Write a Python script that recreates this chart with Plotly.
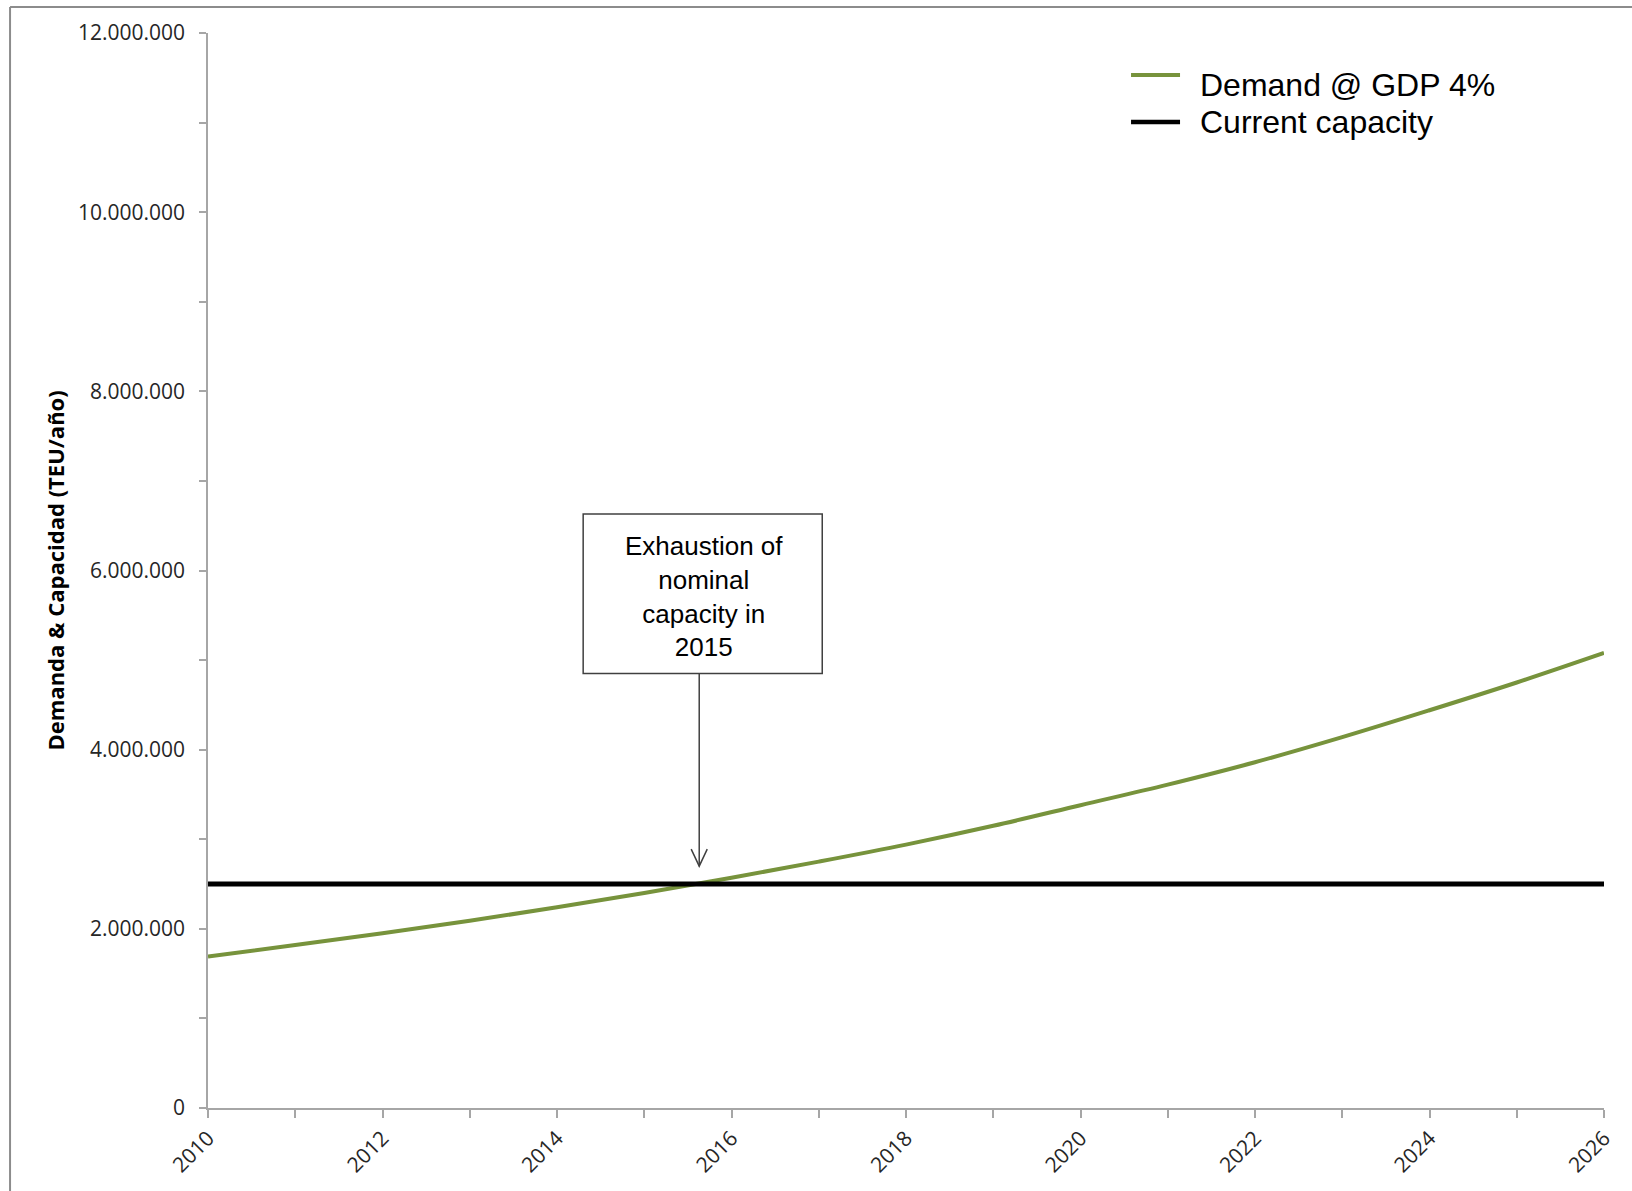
import plotly.graph_objects as go

# ---- data ----
years = list(range(2010, 2027))
demand = [1.69e6, 1.82e6, 1.95e6, 2.09e6, 2.24e6, 2.40e6, 2.57e6, 2.75e6, 2.94e6,
          3.15e6, 3.38e6, 3.61e6, 3.86e6, 4.14e6, 4.44e6, 4.75e6, 5.08e6]
capacity = [2.5e6] * len(years)
series_names = ["Demand @ GDP 4%", "Current capacity"]
y_title = "Demanda & Capacidad (TEU/año)"
note_text = "Exhaustion of<br>nominal<br>capacity in<br>2015"
note_box = dict(x0=2014.30, x1=2017.04, y0=4.85e6, y1=6.63e6)
arrow_x = 2015.63
arrow_tip = 2.70e6

GREEN = "#77933C"
AXIS = "#a6a6a6"
TXT = "#262626"
COLORS = [GREEN, "#000000"]

fig = go.Figure()
fig.add_trace(go.Scatter(x=years, y=demand, mode="lines", name=series_names[0],
                         line=dict(color=COLORS[0], width=4, shape="spline")))
fig.add_trace(go.Scatter(x=years, y=capacity, mode="lines", name=series_names[1],
                         line=dict(color=COLORS[1], width=5)))

# annotation box + text
fig.add_shape(type="rect", xref="x", yref="y", **note_box,
              line=dict(color="#404040", width=1.5), fillcolor="white", layer="above")
fig.add_annotation(x=(note_box["x0"] + note_box["x1"]) / 2 + 0.02,
                   y=(note_box["y0"] + note_box["y1"]) / 2 - 0.035e6,
                   xref="x", yref="y", text=note_text, showarrow=False,
                   font=dict(family="Liberation Sans, Arial", size=26, color="#000"),
                   align="center")
# arrow
fig.add_shape(type="line", xref="x", yref="y", x0=arrow_x, x1=arrow_x,
              y0=note_box["y0"], y1=arrow_tip, line=dict(color="#404040", width=1.5))
dx, dy = 0.092, 0.19e6
fig.add_shape(type="path", xref="x", yref="y",
              path=f"M {arrow_x-dx},{arrow_tip+dy} L {arrow_x},{arrow_tip} L {arrow_x+dx},{arrow_tip+dy}",
              line=dict(color="#404040", width=1.5))

# outer frame
fig.add_shape(type="line", xref="paper", yref="paper", x0=-0.1418, x1=1.1,
              y0=1.0242, y1=1.0242, line=dict(color="#8c8c8c", width=2))
fig.add_shape(type="line", xref="paper", yref="paper", x0=-0.1418, x1=-0.1418,
              y0=1.0242, y1=-0.2, line=dict(color="#8c8c8c", width=2))

# legend (drawn manually for exact layout)
leg_line_y = [0.9609, 0.9172]
leg_text_y = [0.9518, 0.9173]
for i, name in enumerate(series_names):
    fig.add_shape(type="line", xref="paper", yref="paper", x0=0.6612, x1=0.6963,
                  y0=leg_line_y[i], y1=leg_line_y[i],
                  line=dict(color=COLORS[i], width=4 if i == 0 else 4.5))
    fig.add_annotation(xref="paper", yref="paper", x=0.7092, y=leg_text_y[i], text=name,
                       showarrow=False, xanchor="left", yanchor="middle",
                       font=dict(family="Liberation Sans, Arial", size=32, color="#000"))

# y title
fig.add_annotation(xref="paper", yref="paper", x=-0.1103, y=0.5, text=f"<b>{y_title}</b>",
                   textangle=-90, showarrow=False, xanchor="center", yanchor="middle",
                   font=dict(family="Open Sans", size=22, color="#000"))

fig.update_layout(
    width=1632, height=1191,
    margin=dict(l=208, r=28, t=33, b=83),
    plot_bgcolor="white", paper_bgcolor="white",
    separators=",.",
    font=dict(family="Open Sans", color=TXT),
    showlegend=False,
)
fig.update_xaxes(range=[2010, 2026], tick0=2010, dtick=2, ticks="outside", ticklen=8,
                 tickcolor=AXIS, tickwidth=1.5, showline=True, linecolor=AXIS, linewidth=1.5,
                 showgrid=False, zeroline=False, tickangle=-45,
                 tickfont=dict(family="Open Sans", size=21, color=TXT),
                 minor=dict(dtick=1, ticks="outside", ticklen=8, tickcolor=AXIS, tickwidth=1.5))
fig.update_yaxes(range=[0, 12e6], tick0=0, dtick=2e6, ticks="outside", ticklen=7,
                 tickcolor=AXIS, tickwidth=1.5, showline=True, linecolor=AXIS, linewidth=1.5,
                 showgrid=False, zeroline=False, tickformat=",d",
                 ticklabelstandoff=10,
                 tickfont=dict(family="Open Sans", size=21, color=TXT),
                 minor=dict(dtick=1e6, ticks="outside", ticklen=7, tickcolor=AXIS, tickwidth=1.5))

fig.write_html("out.html")
